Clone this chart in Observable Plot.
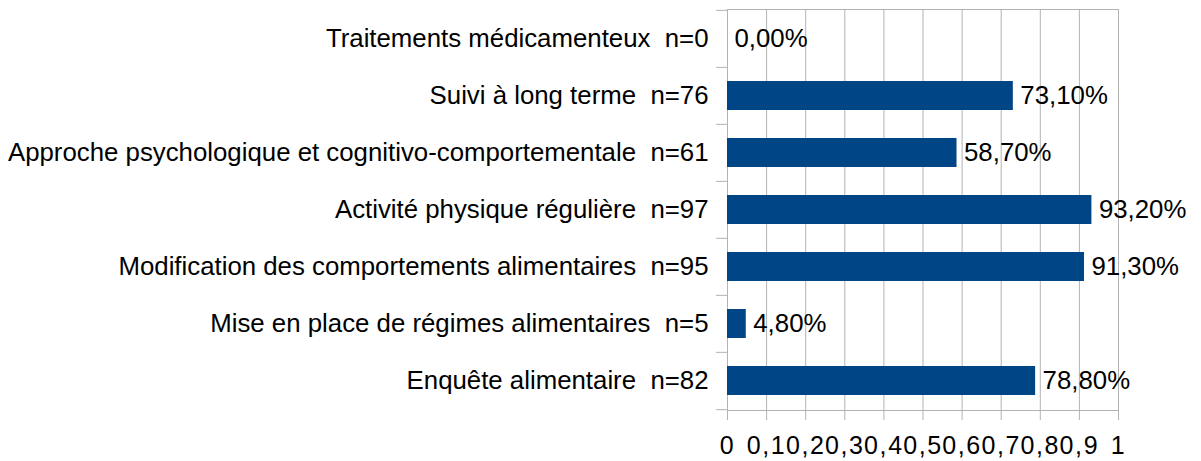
<!DOCTYPE html>
<html><head><meta charset="utf-8">
<script src="https://cdn.jsdelivr.net/npm/d3@7"></script>
<script src="https://cdn.jsdelivr.net/npm/@observablehq/plot@0.6"></script>
<style>
body{margin:0;background:#fff;}
svg text{white-space:pre;}
g[aria-label="x-axis tick label"] text{letter-spacing:1.6px;}
</style></head>
<body><div id="chart"></div>
<script>
const categories = ["Traitements médicamenteux","Suivi à long terme","Approche psychologique et cognitivo-comportementale","Activité physique régulière","Modification des comportements alimentaires","Mise en place de régimes alimentaires","Enquête alimentaire"];
const counts = [0,76,61,97,95,5,82];
const percents = [0.00,73.10,58.70,93.20,91.30,4.80,78.80];
const xTicks = [0,0.1,0.2,0.3,0.4,0.5,0.6,0.7,0.8,0.9,1];

const labels = categories.map((c,i)=>`${c}  n=${counts[i]}`);
const data = labels.map((l,i)=>({label:l, value:percents[i]/100, pct:percents[i]}));

const W=1201,H=461, mT=9, mB=51, mL=727, mR=83;
const step = (H-mT-mB)/categories.length;
const grid = "#b3b3b3";
const fmt = v => v.toFixed(2).replace(".",",")+"%";
const tf = v => v===0||v===1 ? String(v) : String(v).replace(".",",");

const chart = Plot.plot({
  width:W, height:H, marginTop:mT, marginBottom:mB, marginLeft:mL, marginRight:mR,
  style:{fontFamily:"'Liberation Sans', Arial, sans-serif", fontSize:"25.8px", color:"#000", background:"#fff"},
  x:{domain:[0,1], label:null},
  y:{domain:labels, paddingInner:0.49, paddingOuter:0.245, label:null},
  marks:[
    Plot.ruleX(xTicks,{stroke:grid, strokeWidth:1}),
    Plot.frame({stroke:grid}),
    Plot.barX(data,{x:"value", y:"label", fill:"#004586"}),
    Plot.text(data,{x:"value", y:"label", text:d=>fmt(d.pct), textAnchor:"start", dx:7, fontSize:25.8, fill:"#000"}),
    Plot.axisY({tickSize:0, tickPadding:19, fontSize:25.8, fill:"#000", label:null}),
    Plot.axisY({tickSize:11, text:null, stroke:grid, dy:-step/2, label:null}),
    Plot.axisY(labels.slice(-1),{tickSize:11, text:null, stroke:grid, dy:step/2, label:null}),
    Plot.axisX({ticks:xTicks, tickFormat:tf, tickSize:10, tickPadding:16, stroke:grid, fill:"#000", fontSize:25, label:null})
  ]
});
document.getElementById("chart").append(chart);
</script></body></html>
